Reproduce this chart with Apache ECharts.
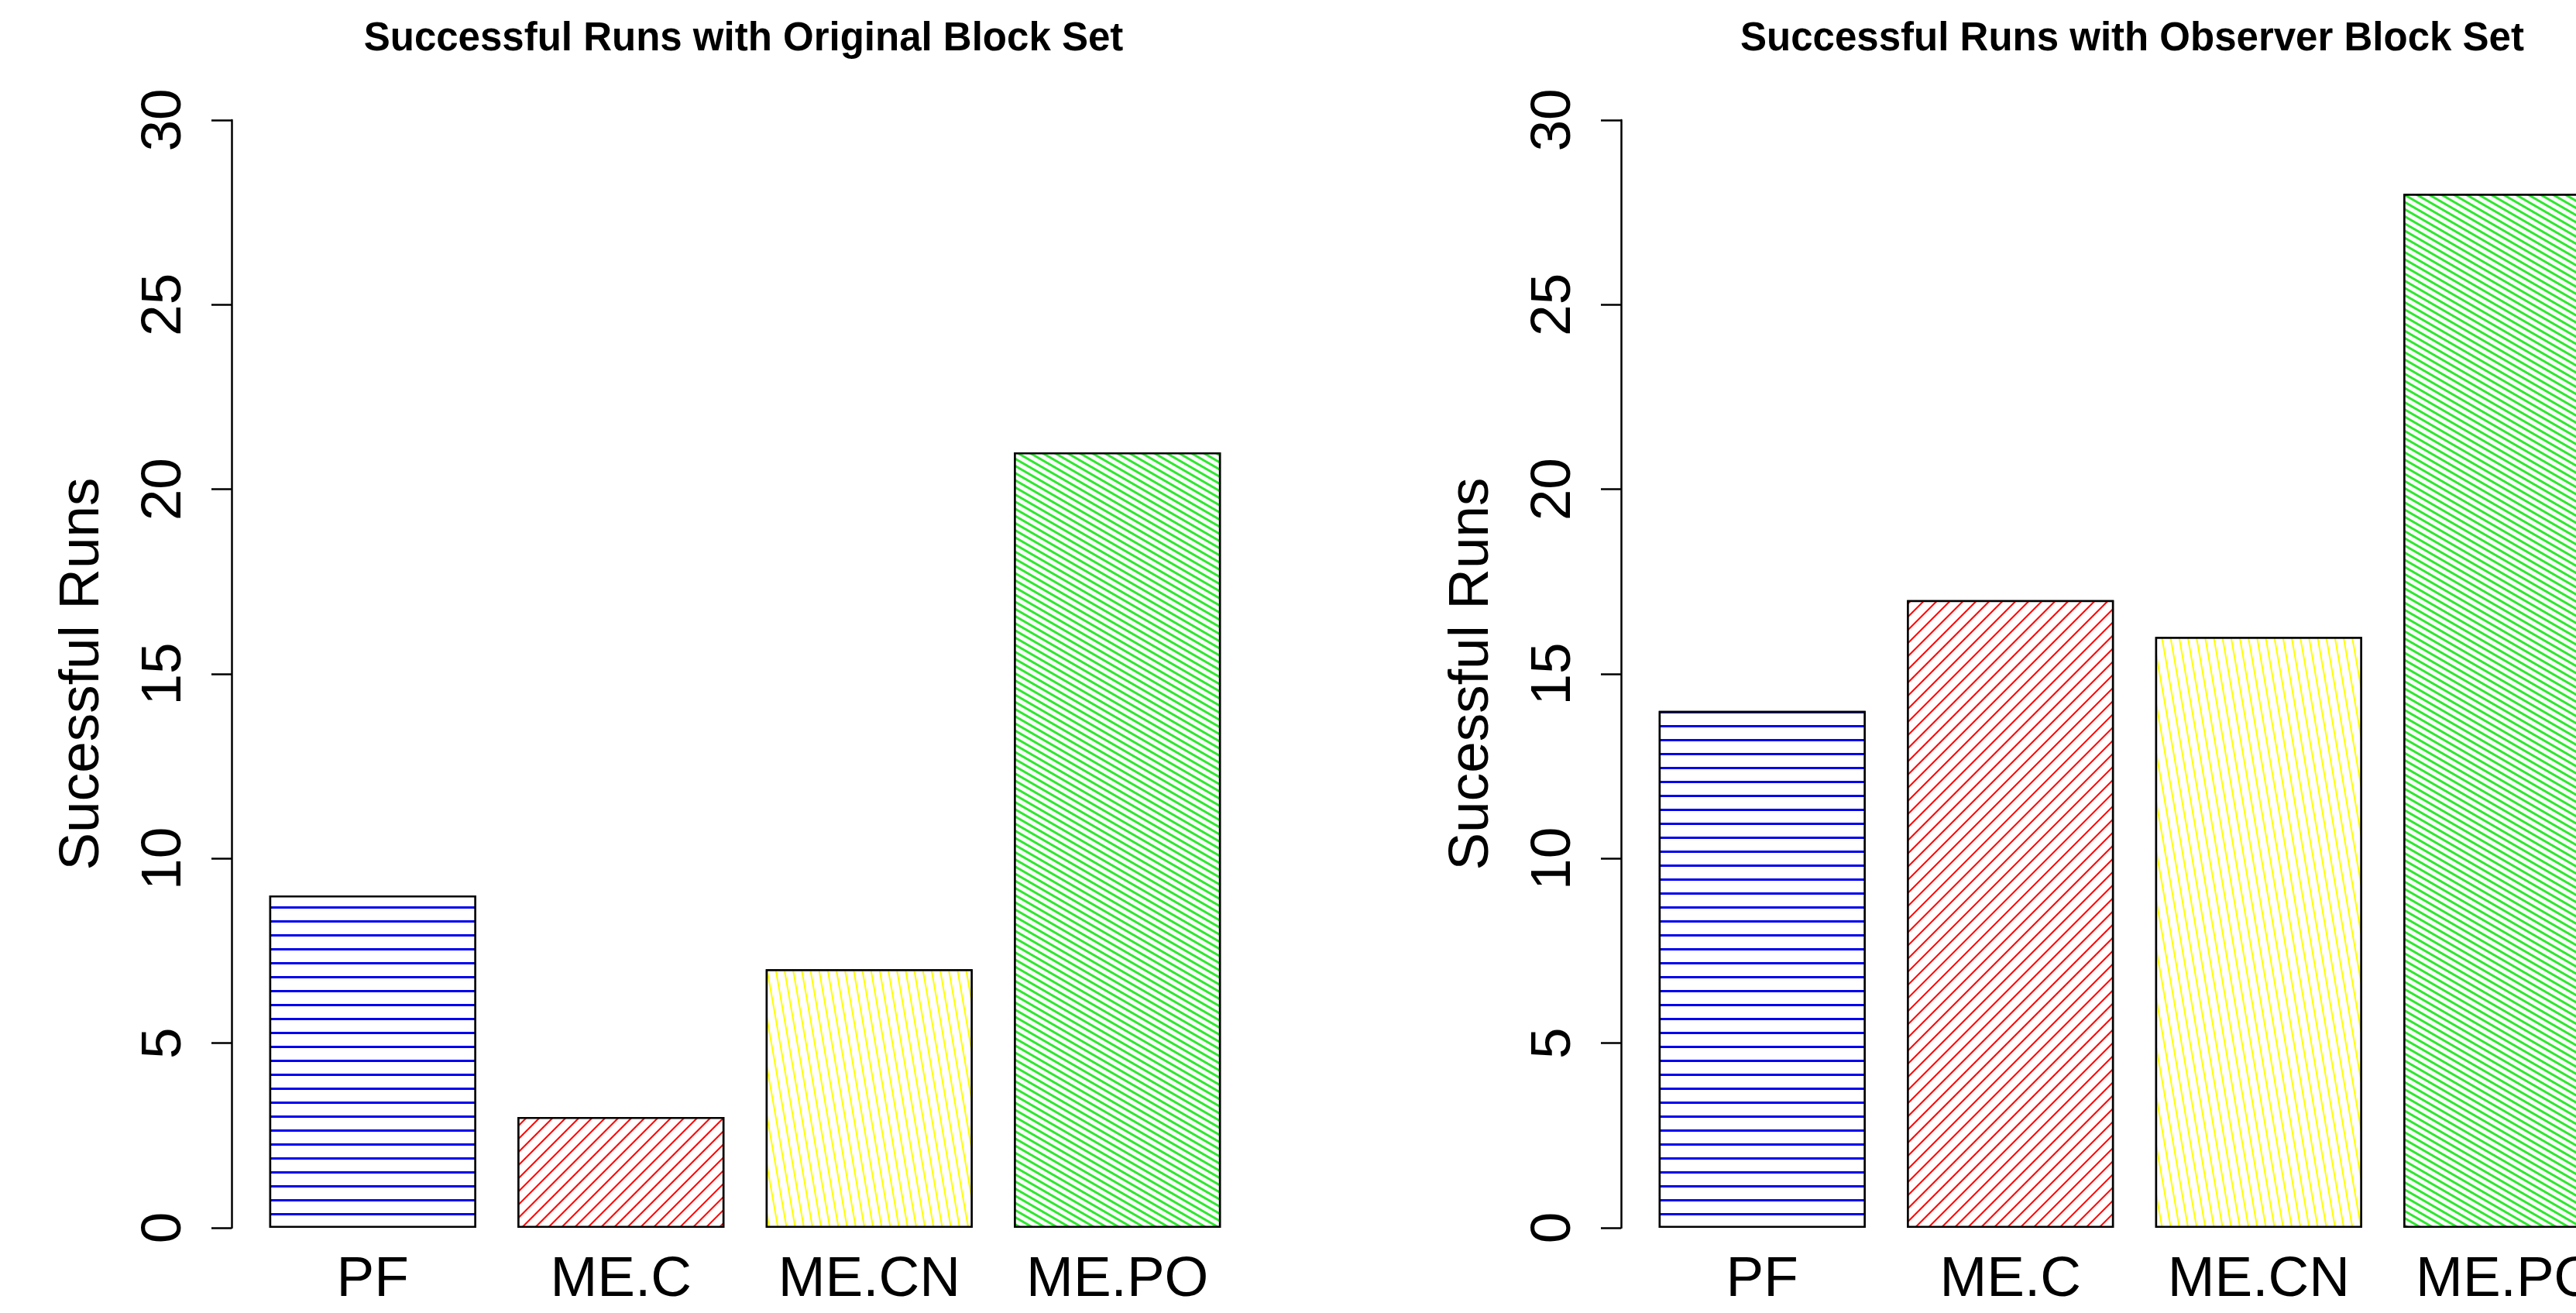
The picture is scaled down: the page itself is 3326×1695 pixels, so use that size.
<!DOCTYPE html>
<html>
<head>
<meta charset="utf-8">
<script src="https://cdn.jsdelivr.net/npm/echarts@6/dist/echarts.min.js"></script>
<style>
  html, body { margin: 0; padding: 0; background: #fff; }
  #chart { width: 3326px; height: 1695px; }
</style>
</head>
<body>
<div id="chart"></div>
<script>
const categories = ["PF", "ME.C", "ME.CN", "ME.PO"];
const originalRuns = [9, 3, 7, 21];
const observerRuns = [14, 17, 16, 28];
const yMin = 0;
const yMax = 30;
const yStep = 5;
const titles = ["Successful Runs with Original Block Set", "Successful Runs with Observer Block Set"];
const yName = "Sucessful Runs";

// R style hatching: line colour, line width, gap, angle (deg, clockwise)
const hatch = (color, width, gap, deg) => ({
  symbol: "rect",
  symbolSize: 1,
  dashArrayX: [[20, 0]],
  dashArrayY: [width, gap],
  rotation: (deg * Math.PI) / 180,
  color: color,
  backgroundColor: "#fff"
});
const hatches = [
  hatch("#0000ee", 3, 15, 0),
  hatch("#ff0000", 2, 10, -45),
  hatch("#ffff00", 2, 9, 80),
  hatch("#2ee82e", 3, 5, 30)
];

const font = "Liberation Sans, Arial, Helvetica, sans-serif";
const chart = echarts.init(document.getElementById("chart"), null, { renderer: "canvas" });

const makeData = values =>
  values.map((v, i) => ({
    value: v,
    itemStyle: { decal: hatches[i] }
  }));

const yAxisFor = gridIndex => ({
  type: "value",
  gridIndex,
  min: yMin,
  max: yMax,
  interval: yStep,
  offset: 22,
  name: yName,
  nameLocation: "middle",
  nameRotate: 90,
  nameGap: 156,
  nameTextStyle: { fontFamily: font, fontSize: 73, color: "#000" },
  axisLine: { show: true, lineStyle: { color: "#000", width: 2.5 } },
  axisTick: { show: true, length: 26, lineStyle: { color: "#000", width: 2.5 } },
  axisLabel: {
    rotate: 90,
    margin: 50,
    fontFamily: font,
    fontSize: 73,
    color: "#000"
  },
  splitLine: { show: false }
});

const xAxisFor = gridIndex => ({
  type: "category",
  gridIndex,
  data: categories,
  axisLine: { show: false },
  axisTick: { show: false },
  axisLabel: { interval: 0, margin: 31, fontFamily: font, fontSize: 73, color: "#000" },
  splitLine: { show: false }
});

const barSeries = (idx, values) => ({
  type: "bar",
  xAxisIndex: idx,
  yAxisIndex: idx,
  barWidth: "83.333%",
  data: makeData(values),
  itemStyle: { color: "#fff", borderColor: "#000", borderWidth: 2.5 }
});

const options = {
  animation: false,
  backgroundColor: "#fff",
  title: [
    {
      text: titles[0],
      left: 960,
      top: 51,
      padding: 0,
      textAlign: "center",
      textVerticalAlign: "middle",
      textStyle: { fontFamily: font, fontSize: 51, fontWeight: "bold", color: "#000" }
    },
    {
      text: titles[1],
      left: 2753,
      top: 51,
      padding: 0,
      textAlign: "center",
      textVerticalAlign: "middle",
      textStyle: { fontFamily: font, fontSize: 51, fontWeight: "bold", color: "#000" }
    }
  ],
  // right panel runs past the page edge, as in the original
  grid: [
    { left: 321, top: 155, width: 1282, height: 1430, outerBoundsMode: "none" },
    { left: 2115, top: 155, right: -71, height: 1430, outerBoundsMode: "none" }
  ],
  xAxis: [xAxisFor(0), xAxisFor(1)],
  yAxis: [yAxisFor(0), yAxisFor(1)],
  series: [barSeries(0, originalRuns), barSeries(1, observerRuns)]
};

chart.setOption(options);
</script>
</body>
</html>
